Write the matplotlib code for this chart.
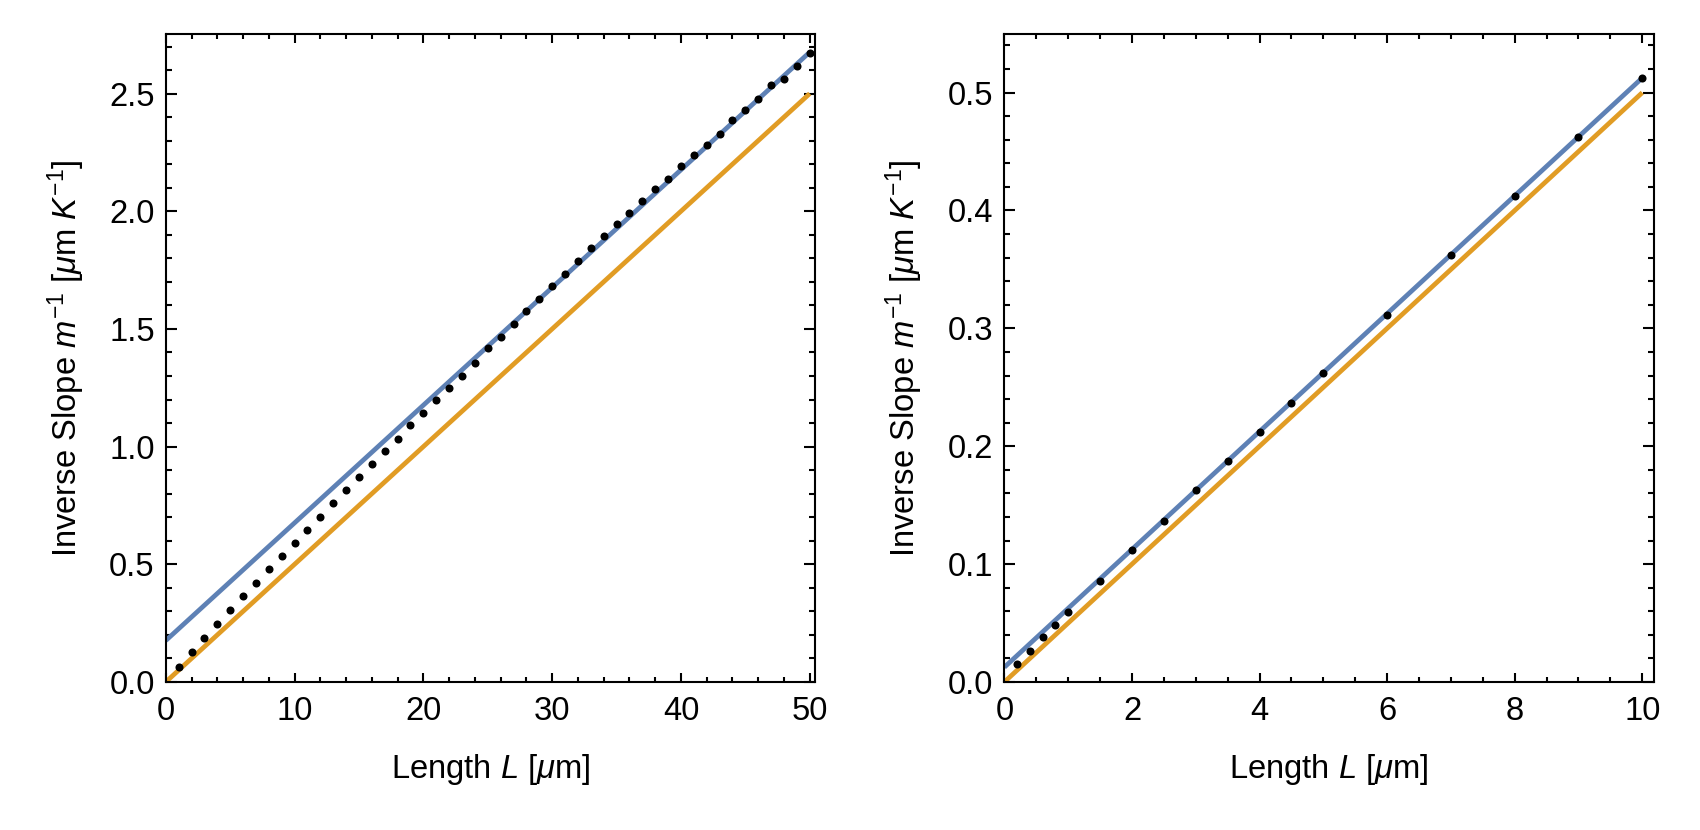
import matplotlib
matplotlib.use('Agg')
import matplotlib.pyplot as plt
from matplotlib.ticker import MultipleLocator, FormatStrFormatter
import numpy as np

plt.rcParams['font.family'] = ['Liberation Sans', 'DejaVu Sans']
plt.rcParams['mathtext.fontset'] = 'custom'
plt.rcParams['mathtext.rm'] = 'Liberation Sans'
plt.rcParams['mathtext.it'] = 'Liberation Sans:italic'
plt.rcParams['mathtext.bf'] = 'Liberation Sans:bold'

BLUE = '#5E81B5'
ORANGE = '#E19C24'

# --- left panel data (L up to 50 um) ---
left_L = np.arange(1, 51)
left_vals = [0.065, 0.126, 0.189, 0.247, 0.306, 0.364, 0.422, 0.479, 0.536, 0.591,
             0.646, 0.703, 0.759, 0.815, 0.870, 0.927, 0.980, 1.031, 1.092, 1.141,
             1.200, 1.250, 1.302, 1.356, 1.417, 1.465, 1.522, 1.577, 1.628, 1.683,
             1.733, 1.787, 1.842, 1.896, 1.944, 1.991, 2.043, 2.093, 2.139, 2.192,
             2.237, 2.280, 2.329, 2.386, 2.430, 2.479, 2.535, 2.564, 2.618, 2.673]
left_line_L = [0, 50]
left_orange = [0.0, 2.5]
left_blue = [0.176, 2.676]

# --- right panel data (L up to 10 um) ---
right_L = [0.2, 0.4, 0.6, 0.8, 1.0, 1.5, 2.0, 2.5, 3.0, 3.5, 4.0, 4.5, 5.0, 6.0, 7.0, 8.0, 9.0, 10.0]
right_vals = [0.0153, 0.0266, 0.0379, 0.0486, 0.0590, 0.0859, 0.1116, 0.1368, 0.1625,
              0.1873, 0.2119, 0.2370, 0.2619, 0.3116, 0.3625, 0.4127, 0.4627, 0.5122]
right_line_L = [0, 10]
right_orange = [0.0, 0.5]
right_blue = [0.0125, 0.5125]

ylabel = r'Inverse Slope $m^{-1}$ [$\mu$m $K^{-1}$]'
xlabel = r'Length $L$ [$\mu$m]'

fig = plt.figure(figsize=(8.5, 4.15), dpi=200)
ax1 = fig.add_axes([0.0975, 0.1783, 0.382, 0.7807])
ax2 = fig.add_axes([0.5908, 0.1783, 0.382, 0.7807])


def style(ax, xmaj, xmin, ymaj, ymin, yfmt):
    ax.xaxis.set_major_locator(MultipleLocator(xmaj))
    ax.xaxis.set_minor_locator(MultipleLocator(xmin))
    ax.yaxis.set_major_locator(MultipleLocator(ymaj))
    ax.yaxis.set_minor_locator(MultipleLocator(ymin))
    ax.yaxis.set_major_formatter(FormatStrFormatter(yfmt))
    ax.tick_params(axis='both', which='both', direction='in', top=True, right=True,
                   labelsize=11.8, colors='black', width=0.75)
    ax.tick_params(axis='x', which='major', length=3.2, pad=5)
    ax.tick_params(axis='x', which='minor', length=1.7)
    ax.tick_params(axis='y', which='major', length=4.0, pad=4)
    ax.tick_params(axis='y', which='minor', length=2.2)
    for sp in ax.spines.values():
        sp.set_linewidth(0.75)
        sp.set_color('black')
    ax.set_xlabel(xlabel, fontsize=11.8, labelpad=9)
    ax.set_ylabel(ylabel, fontsize=11.8, labelpad=8)


ax1.plot(left_line_L, left_orange, color=ORANGE, lw=1.7, solid_capstyle='butt')
ax1.plot(left_line_L, left_blue, color=BLUE, lw=1.7, solid_capstyle='butt')
ax1.plot(left_L, left_vals, 'o', color='black', ms=2.9, mew=0)
ax1.set_xlim(0, 50.42)
ax1.set_ylim(0, 2.753)
style(ax1, 10, 2, 0.5, 0.1, '%.1f')

ax2.plot(right_line_L, right_orange, color=ORANGE, lw=1.7, solid_capstyle='butt')
ax2.plot(right_line_L, right_blue, color=BLUE, lw=1.7, solid_capstyle='butt')
ax2.plot(right_L, right_vals, 'o', color='black', ms=2.9, mew=0)
ax2.set_xlim(0, 10.18)
ax2.set_ylim(0, 0.5497)
style(ax2, 2, 0.5, 0.1, 0.02, '%.1f')

fig.savefig('out.png', dpi=200, facecolor='white')
